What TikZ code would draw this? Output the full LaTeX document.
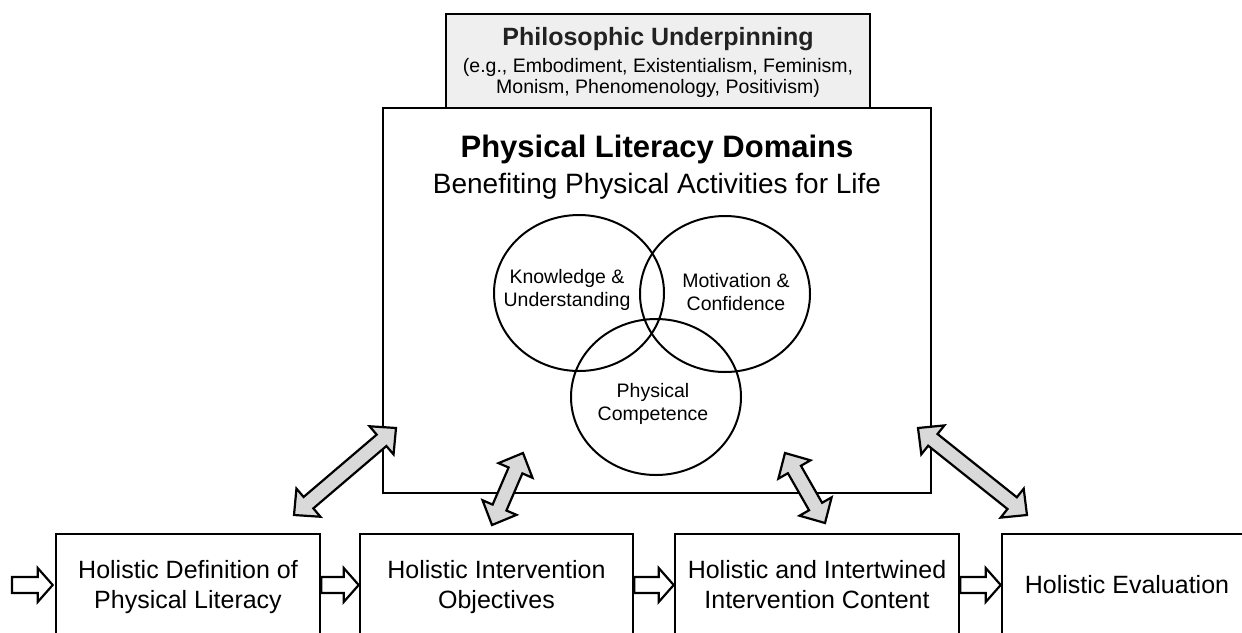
\documentclass[tikz,border=0pt]{standalone}
\usepackage{fontspec}
\setmainfont{Liberation Sans}
\usetikzlibrary{calc,shapes.geometric}

\definecolor{philofill}{HTML}{EFEFEF}
\definecolor{arrowfill}{HTML}{D9D9D9}
\definecolor{titlegray}{HTML}{222222}

\tikzset{
  boxline/.style={draw=black, line width=2.6pt, rectangle, inner sep=0pt},
  flowbox/.style={boxline, minimum height=106, align=center,
                  font=\fontsize{25}{30}\selectfont},
  domaincircle/.style={ellipse, draw=black, line width=2pt, minimum width=170,
                 minimum height=156, inner sep=0pt},
  domaintext/.style={align=center, font=\fontsize{19.5}{23}\selectfont, inner sep=0pt},
  dblarr/.style={draw=black, fill=arrowfill, line width=2.2pt, line join=miter},
  sarr/.style={draw=black, fill=white, line width=2.2pt, line join=miter},
}

% double block arrow between two named coordinates
\newcommand\dblblockarrow[2]{%
  \draw[dblarr] (#1)
    -- ($(#1)!19pt!(#2)!18.5pt!90:(#2)$)
    -- ($(#1)!19pt!(#2)!7.5pt!90:(#2)$)
    -- ($(#2)!19pt!(#1)!7.5pt!-90:(#1)$)
    -- ($(#2)!19pt!(#1)!18.5pt!-90:(#1)$)
    -- (#2)
    -- ($(#2)!19pt!(#1)!18.5pt!90:(#1)$)
    -- ($(#2)!19pt!(#1)!7.5pt!90:(#1)$)
    -- ($(#1)!19pt!(#2)!7.5pt!-90:(#2)$)
    -- ($(#1)!19pt!(#2)!18.5pt!-90:(#2)$)
    -- cycle;}

% horizontal single block arrow from #1 (tail) to #2 (tip)
\newcommand\hblockarrow[2]{%
  \draw[sarr] ($(#1)+(0,-8)$) -- ($(#2)+(-15,-8)$) -- ($(#2)+(-15,-17)$)
    -- (#2) -- ($(#2)+(-15,17)$) -- ($(#2)+(-15,8)$) -- ($(#1)+(0,8)$) -- cycle;}

\begin{document}
\begin{tikzpicture}[x=1pt,y=-1pt]
\useasboundingbox (0,0) rectangle (1242,632);
\clip (0,0) rectangle (1242,632);

% philosophic underpinning
\node[boxline, fill=philofill, minimum width=424, minimum height=94] (philo) at (658,61) {};
\node[anchor=base, inner sep=0pt, text=titlegray, font=\fontsize{25}{30}\selectfont\bfseries] (philot) at (658,45) {Philosophic Underpinning};
\node[anchor=base, inner sep=0pt, font=\fontsize{19.5}{22}\selectfont] (philo1) at (658,72) {(e.g., Embodiment, Existentialism, Feminism,};
\node[anchor=base, inner sep=0pt, font=\fontsize{19.5}{22}\selectfont] (philo2) at (658,93.5) {Monism, Phenomenology, Positivism)};

% main domains box
\node[boxline, minimum width=548, minimum height=385] (main) at (657,300.5) {};
\node[anchor=base, inner sep=0pt, font=\fontsize{31}{36}\selectfont\bfseries] (maint) at (657,157) {Physical Literacy Domains};
\node[anchor=base, inner sep=0pt, font=\fontsize{28}{32}\selectfont] (mains) at (657,193) {Benefiting Physical Activities for Life};

% domains
\node[domaincircle] (know) at (579,293) {};
\node[domaincircle] (moti) at (725,294) {};
\node[domaincircle] (phys) at (656,397) {};
\node[domaintext] (knowt) at (567,290) {\strut Knowledge \&\\\strut Understanding};
\node[domaintext] (motit) at (736,294) {\strut Motivation \&\\\strut Confidence};
\node[domaintext] (physt) at (653,404) {\strut Physical\\\strut Competence};

% bottom flow boxes
\node[flowbox, minimum width=264] (b1) at (188,587) {\strut Holistic Definition of\\\strut Physical Literacy};
\node[flowbox, minimum width=273] (b2) at (496.5,587) {\strut Holistic Intervention\\\strut Objectives};
\node[flowbox, minimum width=284] (b3) at (817,587) {\strut Holistic and Intertwined\\\strut Intervention Content};
\node[flowbox, minimum width=250] (b4) at (1127,587) {\strut Holistic Evaluation};

% horizontal arrows
\coordinate (ay) at (0,585);
\coordinate (start) at (12,585);
\coordinate (t1) at ($(b1.west |- ay)+(-2,0)$);
\hblockarrow{start}{t1}
\hblockarrow{b1.east |- ay}{b2.west |- ay}
\hblockarrow{b2.east |- ay}{b3.west |- ay}
\hblockarrow{b3.east |- ay}{b4.west |- ay}

% double arrows
\coordinate (d1a) at (294,515);
\coordinate (d1b) at (396,428);
\coordinate (d2a) at (492,525);
\coordinate (d2b) at (523,453);
\coordinate (d3a) at (825,523);
\coordinate (d3b) at (785,453);
\coordinate (d4a) at (1027,515);
\coordinate (d4b) at (918,428);
\dblblockarrow{d1a}{d1b}
\dblblockarrow{d2a}{d2b}
\dblblockarrow{d3a}{d3b}
\dblblockarrow{d4a}{d4b}
\end{tikzpicture}
\end{document}
